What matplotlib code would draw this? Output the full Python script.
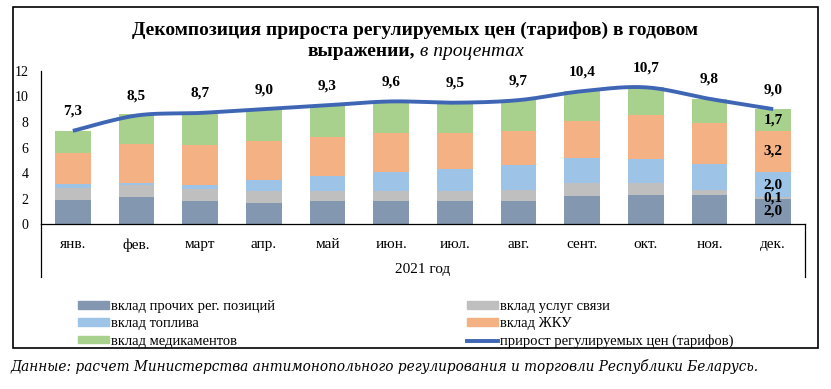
import numpy as np
import matplotlib.pyplot as plt
from matplotlib.patches import Patch, Rectangle
from matplotlib.lines import Line2D

plt.rcParams['font.family'] = ['Liberation Serif', 'DejaVu Serif']

months = ['янв.', 'фев.', 'март', 'апр.', 'май', 'июн.', 'июл.', 'авг.', 'сент.', 'окт.', 'ноя.', 'дек.']
other = [1.9, 2.1, 1.8, 1.7, 1.8, 1.8, 1.8, 1.85, 2.25, 2.3, 2.3, 2.0]
comm = [0.95, 0.95, 0.95, 0.9, 0.8, 0.8, 0.8, 0.85, 0.95, 0.9, 0.4, 0.1]
fuel = [0.3, 0.2, 0.35, 0.9, 1.2, 1.5, 1.7, 1.9, 2.0, 1.9, 2.05, 2.0]
housing = [2.4, 3.0, 3.1, 3.0, 3.0, 3.0, 2.8, 2.7, 2.9, 3.45, 3.2, 3.2]
medic = [1.75, 2.35, 2.5, 2.5, 2.5, 2.55, 2.4, 2.4, 2.3, 2.15, 1.85, 1.7]
total = [7.3, 8.5, 8.7, 9.0, 9.3, 9.6, 9.5, 9.7, 10.4, 10.7, 9.8, 9.0]
dec_labels = ['2,0', '0,1', '2,0', '3,2', '1,7']

names = ['вклад прочих рег. позиций', 'вклад услуг связи', 'вклад топлива',
         'вклад ЖКУ', 'вклад медикаментов']
line_name = 'прирост регулируемых цен (тарифов)'
colors = ['#8497b0', '#bfbfbf', '#9dc3e6', '#f4b183', '#a9d18e']
line_color = '#3f66b4'


def smooth(y, n=20):
    # Excel-style smoothed line (Bezier through the points)
    y = np.asarray(y, float)
    x = np.arange(len(y), dtype=float)
    pts = np.column_stack([x, y])
    out = []
    for i in range(len(pts) - 1):
        p0 = pts[max(i - 1, 0)]
        p1 = pts[i]
        p2 = pts[i + 1]
        p3 = pts[min(i + 2, len(pts) - 1)]
        c1 = p1 + (p2 - p0) / 6
        c2 = p2 - (p3 - p1) / 6
        t = np.linspace(0, 1, n)[:, None]
        seg = ((1 - t) ** 3) * p1 + 3 * ((1 - t) ** 2) * t * c1 + 3 * (1 - t) * t ** 2 * c2 + t ** 3 * p2
        out.append(seg if i == 0 else seg[1:])
    out = np.vstack(out)
    return out[:, 0], out[:, 1]


fig = plt.figure(figsize=(8.31, 3.89), dpi=100)
ax = fig.add_axes([41 / 831, 1 - 224.3 / 389, 764 / 831, 153.6 / 389])

x = np.arange(len(months))
series = [other, comm, fuel, housing, medic]
bottom = np.zeros(len(months))
for vals, c in zip(series, colors):
    ax.bar(x, vals, 0.565, bottom=bottom, color=c, zorder=2)
    bottom += np.array(vals)

# labels inside the December bar
bottom = 0.0
for vals, lab in zip(series, dec_labels):
    v = vals[-1]
    ax.text(x[-1], bottom + v / 2, lab, ha='center', va='center',
            fontsize=11, fontweight='bold', zorder=4)
    bottom += v

sx, sy = smooth(total)
ax.plot(sx, sy, color=line_color, lw=2.8, zorder=3, solid_capstyle='butt')
for xi, t in zip(x, total):
    ax.annotate(f'{t:.1f}'.replace('.', ','), (xi, t), xytext=(0, 19.5),
                textcoords='offset pixels', ha='center', va='center',
                fontsize=11, fontweight='bold')

ax.set_xlim(-0.5, 11.5)
ax.set_ylim(0, 12)
ax.set_yticks(range(0, 13, 2))
ax.tick_params(axis='y', length=0, labelsize=10, pad=9)
ax.tick_params(axis='x', length=0, labelsize=11, pad=10)
ax.set_xticks(x)
ax.set_xticklabels(months)
for s in ['top', 'right']:
    ax.spines[s].set_visible(False)
ax.spines['left'].set_linewidth(0.9)
ax.spines['bottom'].set_linewidth(0.9)

# multi-level category axis frame
for xx in (0, 1):
    ax.plot([xx, xx], [0, -0.343], transform=ax.transAxes, color='black',
            lw=0.9, clip_on=False)
ax.text(0.5, -0.295, '2021 год', transform=ax.transAxes, ha='center',
        va='center', fontsize=11)

# title
fig.text(0.5, 1 - 30 / 389, 'Декомпозиция прироста регулируемых цен (тарифов) в годовом',
         ha='center', va='center', fontsize=14, fontweight='bold')
t1 = fig.text(0.5, 1 - 52 / 389, 'выражении,', ha='right', va='center',
              fontsize=14, fontweight='bold')
t2 = fig.text(0.5, 1 - 52 / 389, ' в процентах', ha='left', va='center',
              fontsize=14, style='italic')
fig.canvas.draw()
r = fig.canvas.get_renderer()
w1 = t1.get_window_extent(r).width / 831
w2 = t2.get_window_extent(r).width / 831
t1.set_x(0.5 - (w1 + w2) / 2 + w1)
t2.set_x(0.5 - (w1 + w2) / 2 + w1)

# legend
handles = [Patch(color=colors[0], label=names[0]),
           Patch(color=colors[2], label=names[2]),
           Patch(color=colors[4], label=names[4]),
           Patch(color=colors[1], label=names[1]),
           Patch(color=colors[3], label=names[3]),
           Line2D([], [], color=line_color, lw=2.8, label=line_name)]
fig.legend(handles=handles, ncol=2, loc='upper left',
           bbox_to_anchor=(78 / 831, 1 - 300 / 389), frameon=False,
           fontsize=10.5, handlelength=2.1, handleheight=0.45, handletextpad=0.15,
           columnspacing=13.2, labelspacing=0.3, borderpad=0, borderaxespad=0)

# outer border
fig.patches.append(Rectangle((13 / 831, 1 - 348 / 389), 805 / 831, 341 / 389,
                             transform=fig.transFigure, fill=False,
                             edgecolor='black', lw=1.2))

fig.text(11 / 831, 1 - 367 / 389,
         'Данные: расчет Министерства антимонопольного регулирования и торговли Республики Беларусь.',
         ha='left', va='center', fontsize=9.8, style='italic', family='DejaVu Serif')

fig.savefig('out.png', dpi=100)
